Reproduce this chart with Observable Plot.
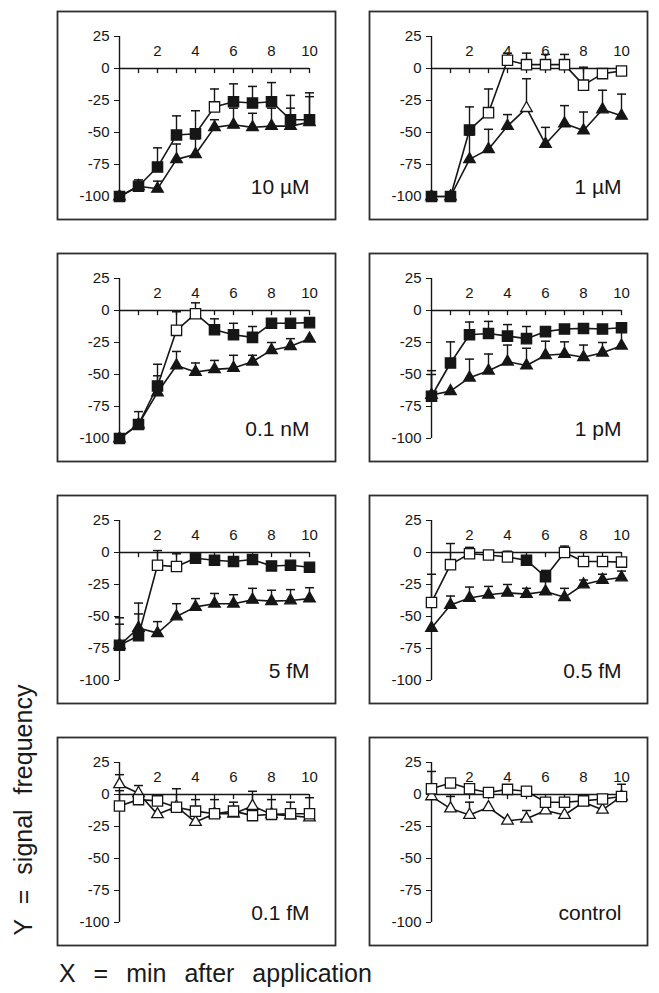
<!DOCTYPE html>
<html>
<head>
<meta charset="utf-8">
<script src="https://cdn.jsdelivr.net/npm/d3@7"></script>
<script src="https://cdn.jsdelivr.net/npm/@observablehq/plot@0.6"></script>
<style>
  body { margin: 0; background: #fff; }
  #wrap { position: relative; width: 659px; height: 993px; font-family: "Liberation Sans", Arial, Helvetica, sans-serif; color: #1a1a1a; }
  .panel { position: absolute; }
  #ylab { position: absolute; left: 23px; top: 810px; transform: translate(-50%, -50%) rotate(-90deg); font-size: 25px; line-height: 25px; white-space: nowrap; word-spacing: 8px; }
  #xlab { position: absolute; left: 59px; top: 961px; font-size: 25px; line-height: 25px; white-space: nowrap; word-spacing: 11px; }
</style>
</head>
<body>
<div id="wrap">
  <div id="ylab">Y = signal frequency</div>
  <div id="xlab">X = min after application</div>
</div>
<script>
// ---- shared axis values ----
const minutes = [0, 1, 2, 3, 4, 5, 6, 7, 8, 9, 10];
const xTickLabels = [2, 4, 6, 8, 10];
const xTickMarks = [1, 2, 3, 4, 5, 6, 7, 8, 9, 10];
const yTicks = [-100, -75, -50, -25, 0, 25];
const panelLabels = ["10 µM", "1 µM", "0.1 nM", "1 pM", "5 fM", "0.5 fM", "0.1 fM", "control"];

// ---- 10 µM ----
const sq_10uM    = [-100, -92, -77, -52, -51, -30, -26, -27, -26, -40, -40];
const sqErr_10uM = [null, -87, -62, -37, -33, -16, -12, -14, -11, -21, -19];
const sqOpen_10uM = [0, 0, 0, 0, 0, 1, 0, 0, 0, 0, 0];
const tri_10uM    = [-100, -92, -94, -71, -67, -46, -44, -46, -45, -45, -42];
const triErr_10uM = [null, -89, -88, -59, -55, -40, -31, -35, -31, -31, -22];
const triOpen_10uM = [0, 0, 0, 0, 0, 0, 0, 0, 0, 0, 0];

// ---- 1 µM ----
const sq_1uM    = [-100, -100, -48, -34.5, 6.5, 3, 3, 3, -13, -4, -2];
const sqErr_1uM = [null, null, -30, -16, 12, 12, 11, 11, 1, null, null];
const sqOpen_1uM = [0, 0, 0, 1, 1, 1, 1, 1, 1, 1, 1];
const tri_1uM    = [-100, -100, -71, -63, -45, -31, -59, -43, -48.5, -32, -37];
const triErr_1uM = [null, null, -52, -47.5, -36, -8, -46, -29, -34, -17, -20];
const triOpen_1uM = [0, 0, 0, 0, 0, 1, 0, 0, 0, 0, 0];

// ---- 0.1 nM ----
const sq_01nM    = [-100, -89, -59, -15.5, -2.5, -15, -19, -21, -10, -10, -9.5];
const sqErr_01nM = [null, -79, -42, -1, 6, -6.5, -10, -12.5, null, null, null];
const sqOpen_01nM = [0, 0, 0, 1, 1, 0, 0, 0, 0, 0, 0];
const tri_01nM    = [-100, -89, -64, -43, -48, -46, -45, -40, -31, -28, -22];
const triErr_01nM = [null, null, -51, -32, -41, -39, -35, -35, -25, -22, null];
const triOpen_01nM = [0, 0, 0, 0, 0, 0, 0, 0, 0, 0, 0];

// ---- 1 pM ----
const sq_1pM    = [-67, -41, -19, -18, -20, -22, -16.5, -14.5, -14, -14.5, -13.5];
const sqErr_1pM = [-47, -24.5, -9, -8.5, -11, -12.5, null, null, null, null, null];
const sqOpen_1pM = [0, 0, 0, 0, 0, 0, 0, 0, 0, 0, 0];
const tri_1pM    = [-66, -63, -52.5, -47, -40, -43, -35, -34, -36.5, -33, -27.5];
const triErr_1pM = [-50, null, -38, -34, -27, -29.5, -24, -24.5, -27, -25, -16];
const triOpen_1pM = [0, 0, 0, 0, 0, 0, 0, 0, 0, 0, 0];

// ---- 5 fM ----
const sq_5fM    = [-72.5, -65, -10, -11, -4.5, -6, -7, -5.5, -10.5, -10, -11.5];
const sqErr_5fM = [-51, -39.5, 1.5, -1, null, null, null, null, null, null, null];
const sqOpen_5fM = [0, 0, 1, 1, 0, 0, 0, 0, 0, 0, 0];
const tri_5fM    = [-72.5, -59, -63, -50, -42.5, -40, -40, -37, -38, -37.5, -36];
const triErr_5fM = [-56, -48, -54, -40, -36, -32, -33, -28, -29.5, -29, -27.5];
const triOpen_5fM = [0, 0, 0, 0, 0, 0, 0, 0, 0, 0, 0];

// ---- 0.5 fM ----
const sq_05fM    = [-39, -9.5, -1, -2, -3.5, -6, -19, 0, -7, -7, -7.5];
const sqErr_05fM = [-17, 7, 4, null, 1, null, -14, 5, null, null, null];
const sqOpen_05fM = [1, 1, 1, 1, 1, 0, 0, 1, 1, 1, 1];
const tri_05fM    = [-59, -41, -35.5, -33, -31.5, -32.5, -30.5, -35, -25, -21.5, -19.5];
const triErr_05fM = [null, -34, -27, -26.5, -25, -28, -21, -28, -21.5, -17, -14.5];
const triOpen_05fM = [0, 0, 0, 0, 0, 0, 0, 0, 0, 0, 0];

// ---- 0.1 fM ----
const sq_01fM    = [-9, -4, -5, -10, -13, -15, -13, -16.5, -15.5, -15, -15];
const sqErr_01fM = [3, null, -3.5, 4.5, -4, -4, -6, null, -4, -6, -2.5];
const sqOpen_01fM = [1, 1, 1, 1, 1, 1, 1, 1, 1, 1, 1];
const tri_01fM    = [8, 1, -15.5, -9.5, -21.5, -15, -15, -9, -15.5, -16.5, -18];
const triErr_01fM = [15.5, 7, null, null, null, null, null, 2.5, null, null, null];
const triOpen_01fM = [1, 1, 1, 1, 1, 1, 1, 1, 1, 1, 1];

// ---- control ----
const sq_ctrl    = [4.5, 9, 4.5, 1.5, 4, 2.5, -6, -6, -5, -3.5, -1.5];
const sqErr_ctrl = [18, null, null, null, null, null, null, null, null, null, 8];
const sqOpen_ctrl = [1, 1, 1, 1, 1, 1, 1, 1, 1, 1, 1];
const tri_ctrl    = [-1.5, -11, -16, -10, -20.5, -19, -12.5, -16, -6, -12, -1.5];
const triErr_ctrl = [null, -1.5, -6, null, null, -12.5, null, null, null, null, null];
const triOpen_ctrl = [1, 1, 1, 1, 1, 1, 1, 1, 1, 1, 1];

const panels = [
  {label: panelLabels[0], sq: sq_10uM, sqErr: sqErr_10uM, sqOpen: sqOpen_10uM, tri: tri_10uM, triErr: triErr_10uM, triOpen: triOpen_10uM},
  {label: panelLabels[1], sq: sq_1uM, sqErr: sqErr_1uM, sqOpen: sqOpen_1uM, tri: tri_1uM, triErr: triErr_1uM, triOpen: triOpen_1uM},
  {label: panelLabels[2], sq: sq_01nM, sqErr: sqErr_01nM, sqOpen: sqOpen_01nM, tri: tri_01nM, triErr: triErr_01nM, triOpen: triOpen_01nM},
  {label: panelLabels[3], sq: sq_1pM, sqErr: sqErr_1pM, sqOpen: sqOpen_1pM, tri: tri_1pM, triErr: triErr_1pM, triOpen: triOpen_1pM},
  {label: panelLabels[4], sq: sq_5fM, sqErr: sqErr_5fM, sqOpen: sqOpen_5fM, tri: tri_5fM, triErr: triErr_5fM, triOpen: triOpen_5fM},
  {label: panelLabels[5], sq: sq_05fM, sqErr: sqErr_05fM, sqOpen: sqOpen_05fM, tri: tri_05fM, triErr: triErr_05fM, triOpen: triOpen_05fM},
  {label: panelLabels[6], sq: sq_01fM, sqErr: sqErr_01fM, sqOpen: sqOpen_01fM, tri: tri_01fM, triErr: triErr_01fM, triOpen: triOpen_01fM},
  {label: panelLabels[7], sq: sq_ctrl, sqErr: sqErr_ctrl, sqOpen: sqOpen_ctrl, tri: tri_ctrl, triErr: triErr_ctrl, triOpen: triOpen_ctrl}
];

// layout
const colLeft = [56, 368];
const rowTop = [10, 252, 494, 736];
const W = 280, H = 210, ML = 63, MR = 27, MT = 26, MB = 24;
const INK = "#161616";

// error-bar cap as a custom symbol
const capSymbol = {
  draw(context, size) {
    const w = Math.sqrt(size / Math.PI);
    context.moveTo(-w, 0);
    context.lineTo(w, 0);
  }
};

function series(vals, errs, open) {
  return vals.map((v, i) => ({x: minutes[i], y: v, err: errs[i], open: !!open[i]}));
}

function makePanel(p) {
  const sq = series(p.sq, p.sqErr, p.sqOpen);
  const tr = series(p.tri, p.triErr, p.triOpen);
  const errs = [...tr, ...sq].filter(d => d.err != null);
  return Plot.plot({
    width: W, height: H,
    marginLeft: ML, marginRight: MR, marginTop: MT, marginBottom: MB,
    style: {fontFamily: '"Liberation Sans", Arial, Helvetica, sans-serif', fontSize: "15px", color: INK, background: "white", overflow: "visible"},
    x: {domain: [0, 10], axis: null},
    y: {domain: [-100, 25], ticks: yTicks, tickSize: 5, tickPadding: 5, label: null, tickFormat: d => String(d)},
    marks: [
      Plot.frame({stroke: "#2e2e2e", strokeWidth: 1.8, insetLeft: -(ML - 1), insetRight: -(MR - 1), insetTop: -(MT - 1), insetBottom: -(MB - 1)}),
      Plot.ruleX([0], {stroke: INK, strokeWidth: 1.4}),
      Plot.ruleY([0], {stroke: INK, strokeWidth: 1.4}),
      Plot.ruleX(xTickMarks, {x: d => d, y1: 0, y2: -4, stroke: INK, strokeWidth: 1.3}),
      Plot.text(xTickLabels, {x: d => d, text: d => String(d), frameAnchor: "top", dy: 9, fontSize: 15, fill: INK}),
      Plot.line(tr, {x: "x", y: "y", stroke: INK, strokeWidth: 1.6}),
      Plot.line(sq, {x: "x", y: "y", stroke: INK, strokeWidth: 1.6}),
      Plot.ruleX(errs, {x: "x", y1: "y", y2: "err", stroke: INK, strokeWidth: 1.4}),
      Plot.dot(errs, {x: "x", y: "err", symbol: capSymbol, r: 4.5, fill: "none", stroke: INK, strokeWidth: 1.5}),
      Plot.dot(tr.filter(d => !d.open), {x: "x", y: "y", symbol: "triangle", r: 4.3, fill: INK, stroke: INK, strokeWidth: 1.3}),
      Plot.dot(tr.filter(d => d.open), {x: "x", y: "y", symbol: "triangle", r: 4.3, fill: "white", stroke: INK, strokeWidth: 1.3}),
      Plot.dot(sq.filter(d => !d.open), {x: "x", y: "y", symbol: "square", r: 5.8, fill: INK, stroke: INK, strokeWidth: 1.3}),
      Plot.dot(sq.filter(d => d.open), {x: "x", y: "y", symbol: "square", r: 5.8, fill: "white", stroke: INK, strokeWidth: 1.3}),
      Plot.text([p.label], {text: d => d, frameAnchor: "bottom-right", textAnchor: "end", lineAnchor: "bottom", dy: -3, fontSize: 21, fill: INK})
    ]
  });
}

const wrap = document.getElementById("wrap");
panels.forEach((p, i) => {
  const div = document.createElement("div");
  div.className = "panel";
  div.style.left = colLeft[i % 2] + "px";
  div.style.top = rowTop[Math.floor(i / 2)] + "px";
  div.appendChild(makePanel(p));
  wrap.appendChild(div);
});
</script>
</body>
</html>
